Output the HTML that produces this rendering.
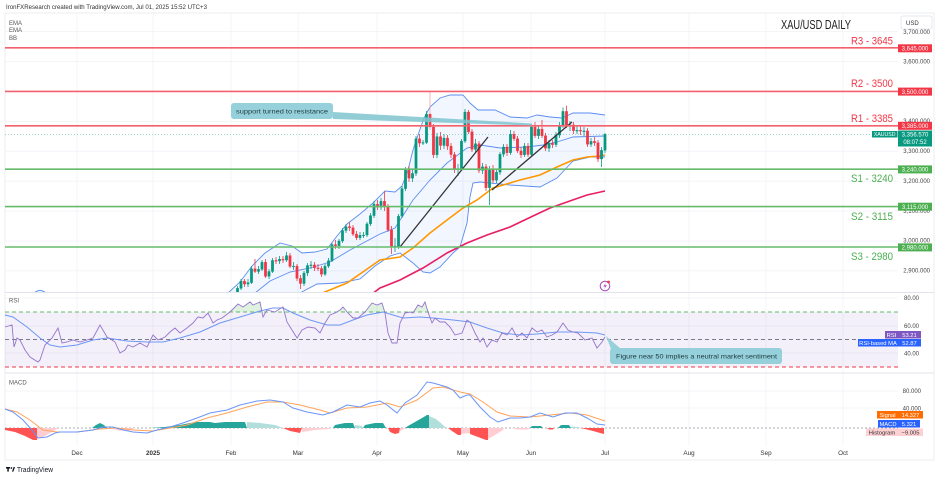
<!DOCTYPE html>
<html><head><meta charset="utf-8">
<style>
html,body{margin:0;padding:0;background:#fff;}
svg{display:block;font-family:"Liberation Sans",sans-serif;}
</style></head>
<body>
<svg width="940" height="478" viewBox="0 0 940 478" xmlns="http://www.w3.org/2000/svg">
<defs>
<clipPath id="mainclip"><rect x="5" y="13" width="893" height="279"/></clipPath>
</defs>
<rect width="940" height="478" fill="#fff"/>

<!-- header -->
<text x="6" y="9" font-size="6.3" fill="#333" textLength="201" lengthAdjust="spacingAndGlyphs">IronFXResearch created with TradingView.com, Jul 01, 2025 15:52 UTC+3</text>

<!-- frame -->
<rect x="5" y="13" width="929" height="447" fill="none" stroke="#e6e8ee" stroke-width="0.8"/>

<!-- vertical grid -->
<g stroke="#f0f2f7" stroke-width="0.8">
<line x1="77" y1="13" x2="77" y2="446"/><line x1="153" y1="13" x2="153" y2="446"/>
<line x1="231" y1="13" x2="231" y2="446"/><line x1="298" y1="13" x2="298" y2="446"/>
<line x1="377" y1="13" x2="377" y2="446"/><line x1="463" y1="13" x2="463" y2="446"/>
<line x1="531" y1="13" x2="531" y2="446"/><line x1="605" y1="13" x2="605" y2="446"/>
<line x1="689" y1="13" x2="689" y2="446"/><line x1="766" y1="13" x2="766" y2="446"/>
<line x1="843" y1="13" x2="843" y2="446"/>
</g>
<!-- horizontal grid main -->
<g stroke="#f0f2f7" stroke-width="0.8">
<line x1="5" y1="31.5" x2="898" y2="31.5"/><line x1="5" y1="61.5" x2="898" y2="61.5"/>
<line x1="5" y1="91.4" x2="898" y2="91.4"/><line x1="5" y1="121.3" x2="898" y2="121.3"/>
<line x1="5" y1="151.2" x2="898" y2="151.2"/><line x1="5" y1="181.1" x2="898" y2="181.1"/>
<line x1="5" y1="211" x2="898" y2="211"/><line x1="5" y1="241" x2="898" y2="241"/>
<line x1="5" y1="270.9" x2="898" y2="270.9"/>
<line x1="5" y1="298" x2="898" y2="298"/><line x1="5" y1="326" x2="898" y2="326"/><line x1="5" y1="353" x2="898" y2="353"/>
<line x1="5" y1="391" x2="898" y2="391"/><line x1="5" y1="408" x2="898" y2="408"/>
</g>
<!-- pane separators -->
<line x1="5" y1="292.5" x2="934" y2="292.5" stroke="#e0e3eb" stroke-width="1"/>
<line x1="5" y1="373" x2="934" y2="373" stroke="#e0e3eb" stroke-width="1"/>

<!-- indicator labels -->
<g font-size="6" fill="#555">
<text x="9" y="25">EMA</text><text x="9" y="32">EMA</text><text x="9" y="40">BB</text>
<text x="9" y="302.5">RSI</text><text x="9" y="384.5">MACD</text>
</g>

<!-- MAIN PANE -->
<g clip-path="url(#mainclip)">
<!-- BB fill -->
<polygon fill="#2962ff" fill-opacity="0.06" points="228,293 240,282 252,266 265,253 280,243 292,246 302,253 315,252 327,249 337,236 347,224 360,214 373,203 385,191 395,192 402,186 408,170 413,150 418,135 424,118 430,107 440,98 450,95 463,95 470,103 478,110 495,110 510,117 527,118 537,115 550,117 562,118 573,113 590,113 605,115 605,157 590,157 573,161 557,178 540,187 510,185 480,182 473,183 470,197 467,223 460,247 453,253 440,267 430,273 423,272 413,263 400,253 390,256 375,266 360,279 340,283 317,284 300,293"/>
<path d="M33 294 Q40 287 47 294" fill="none" stroke="#5b8def" stroke-width="1"/>
<polyline fill="none" stroke="#5b8def" stroke-width="0.9" points="228,293 240,282 252,266 265,253 280,243 292,246 302,253 315,252 327,249 337,236 347,224 360,214 373,203 385,191 395,192 402,186 408,170 413,150 418,135 424,118 430,107 440,98 450,95 463,95 470,103 478,110 495,110 510,117 527,118 537,115 550,117 562,118 573,113 590,113 605,115"/>
<polyline fill="none" stroke="#5b8def" stroke-width="0.9" points="255,293 270,281 290,272 310,268 330,262 350,250 365,242 380,234 395,228 413,200 430,180 447,163 467,148 480,145 500,148 527,147 543,145 557,142 573,137 605,136"/>
<polyline fill="none" stroke="#5b8def" stroke-width="0.9" points="300,293 317,284 340,283 360,279 375,266 390,256 400,253 413,263 423,272 430,273 440,267 453,253 460,247 467,223 470,197 473,183 480,182 510,185 540,187 557,178 573,161 590,157 605,157"/>
<!-- EMAs -->
<polyline fill="none" stroke="#ff9800" stroke-width="1.6" points="320,294 347,283 370,267 380,260 400,257 413,248 430,233 447,220 463,208 477,200 493,188 510,183 520,180 540,175 557,167 573,160 587,157 600,156 605,155"/>
<polyline fill="none" stroke="#e91e63" stroke-width="1.6" points="372,294 380,288 400,280 423,268 447,253 467,243 487,235 510,227 533,216 550,208 567,202 587,195 605,191"/>

<!-- candles: wicks -->
<path fill="none" stroke="#089981" stroke-width="0.8" d="M237.5 286V298M241 279V290M248 279V287M251.5 266V284M258.5 266V274M262 260V271M269 269V279M272.5 258V273M279.5 256V264M286.5 252V262M293.5 262V270M304 271V286M307.5 263V276M311 261V269M325 264V276M328.5 258V268M332 243V262M339 239V249M342.5 228V243M346 224V233M360 232V240M363.5 232V238M367 222V237M370.5 213V226M374 201V218M381 198V210M395 238V252M398.5 214V249M402 186V218M405.5 167V191M412.5 170V182M416 136V176M423 140V145M426.5 111V144M437 133V158M444 134V149M458 164V176M461.5 139V171M465 109V143M475.5 139V153M482.5 163V174M489.5 166V205M496.5 169V183M500 152V175M503.5 144V157M510.5 130V155M524.5 143V157M531.5 124V156M538.5 126V139M549 140V152M556 132V147M559.5 122V138M563 107.5V128M570 121V131M577 126V134M584 127V136M591 138V147M601.5 147V167M605 133V153"/>
<path fill="none" stroke="#f23645" stroke-width="0.8" d="M244.5 279V287M255 259V273M265.5 259V278M276 257V264M283 256V263M290 253V268M297 264V281M300.5 275V289M314.5 262V271M318 264V271M321.5 266V277M335.5 240V249M349.5 222V231M353 225V236M356.5 231V240M377.5 200V210M384.5 191V211M388 204V232M391.5 226V254M409 166V182M419.5 134V147M433.5 124V158M440.5 132V150M447.5 135V150M451 143V158M454.5 152V173M468.5 110V134M472 129V152M479 141V173M486 164V191M493 165V183M507 144V156M514 131V141M517.5 136V153M521 147V158M528 143V157M535 122V138M542 120V138M545.5 133V151M552.5 140V148M566.5 105.7V128M573.5 122V134M580.5 126V135M587.5 128V147M594.5 137V146M598 140V162"/>
<path fill="none" stroke="#f7a1a8" stroke-width="0.8" d="M430 91.4V130"/>
<!-- candles: bodies -->
<path fill="#089981" stroke="#089981" stroke-width="0.35" d="M236.3 288.3h2.4v8h-2.4zM239.8 281.1h2.4v7.2h-2.4zM246.8 282.6h2.4v1.5h-2.4zM250.3 268.8h2.4v13.8h-2.4zM257.3 269.4h2.4v2.1h-2.4zM260.8 262.2h2.4v7.2h-2.4zM267.8 271.5h2.4v4.8h-2.4zM271.3 260.4h2.4v11.1h-2.4zM278.3 259.2h2.4v1.8h-2.4zM285.3 255.6h2.4v4.5h-2.4zM292.3 266.1h2.4v0.8h-2.4zM302.8 273h2.4v10.5h-2.4zM306.3 265.5h2.4v7.5h-2.4zM309.8 264.9h2.4v0.8h-2.4zM323.8 266.1h2.4v8.1h-2.4zM327.3 260.7h2.4v5.4h-2.4zM330.8 244.6h2.4v16.1h-2.4zM337.8 241h2.4v4.8h-2.4zM341.3 230.5h2.4v10.5h-2.4zM344.8 226.6h2.4v3.9h-2.4zM358.8 235.3h2.4v2.4h-2.4zM362.3 235h2.4v0.8h-2.4zM365.8 223.9h2.4v11.1h-2.4zM369.3 215.6h2.4v8.3h-2.4zM372.8 204.2h2.4v11.4h-2.4zM379.8 201.2h2.4v6h-2.4zM393.8 246h2.4v1h-2.4zM397.3 216.2h2.4v30.2h-2.4zM400.8 188.6h2.4v27.6h-2.4zM404.3 170.1h2.4v18.5h-2.4zM411.3 173.4h2.4v4.8h-2.4zM414.8 138.7h2.4v34.7h-2.4zM421.8 142.5h2.4v0.8h-2.4zM425.3 114.1h2.4v28.4h-2.4zM435.8 136.6h2.4v18.2h-2.4zM442.8 138.1h2.4v7.4h-2.4zM456.8 168.9h2.4v0.9h-2.4zM460.3 141.1h2.4v27.8h-2.4zM463.8 112h2.4v29.1h-2.4zM474.3 143.7h2.4v5.7h-2.4zM481.3 166.8h2.4v3.6h-2.4zM488.3 168.9h2.4v18.8h-2.4zM495.3 172.2h2.4v8h-2.4zM498.8 154.2h2.4v18h-2.4zM502.3 147h2.4v7.2h-2.4zM509.3 134.2h2.4v18.5h-2.4zM523.3 146.1h2.4v8.7h-2.4zM530.3 127h2.4v27.5h-2.4zM537.3 129.1h2.4v6.6h-2.4zM547.8 143.4h2.4v4.8h-2.4zM554.8 135.1h2.4v9.5h-2.4zM558.3 125.5h2.4v9.6h-2.4zM561.8 111.4h2.4v14.1h-2.4zM568.8 124.9h2.4v1.2h-2.4zM575.8 130.3h2.4v0.8h-2.4zM582.8 130.9h2.4v0.8h-2.4zM589.8 141.4h2.4v2.9h-2.4zM600.3 150.3h2.4v8.7h-2.4zM603.8 134.3h2.4v16h-2.4z"/>
<path fill="#f23645" stroke="#f23645" stroke-width="0.35" d="M243.3 281.1h2.4v3h-2.4zM253.8 268.8h2.4v2.7h-2.4zM264.3 262.2h2.4v14.1h-2.4zM274.8 260.4h2.4v0.8h-2.4zM281.8 259.2h2.4v0.9h-2.4zM288.8 255.6h2.4v10.8h-2.4zM295.8 266.1h2.4v12.3h-2.4zM299.3 278.4h2.4v5.1h-2.4zM313.3 264.9h2.4v3h-2.4zM316.8 267.9h2.4v0.8h-2.4zM320.3 268.5h2.4v5.7h-2.4zM334.3 244.6h2.4v1.2h-2.4zM348.3 226.6h2.4v1.2h-2.4zM351.8 227.8h2.4v6.3h-2.4zM355.3 234.1h2.4v3.6h-2.4zM376.3 204.2h2.4v3h-2.4zM383.3 201.2h2.4v5.7h-2.4zM386.8 206.9h2.4v23h-2.4zM390.3 229.9h2.4v16.5h-2.4zM407.8 170.1h2.4v8.1h-2.4zM418.3 138.7h2.4v4.4h-2.4zM428.8 114.1h2.4v12.9h-2.4zM432.3 127h2.4v27.8h-2.4zM439.3 136.6h2.4v8.9h-2.4zM446.3 138.1h2.4v8h-2.4zM449.8 146.1h2.4v8.4h-2.4zM453.3 154.5h2.4v15.3h-2.4zM467.3 112h2.4v19.8h-2.4zM470.8 131.8h2.4v17.6h-2.4zM477.8 143.7h2.4v26.7h-2.4zM484.8 166.8h2.4v20.9h-2.4zM491.8 168.9h2.4v11.3h-2.4zM505.8 147h2.4v5.7h-2.4zM512.8 134.2h2.4v4.5h-2.4zM516.3 138.7h2.4v12.2h-2.4zM519.8 150.9h2.4v3.9h-2.4zM526.8 146.1h2.4v8.4h-2.4zM533.8 127h2.4v8.7h-2.4zM540.8 129.1h2.4v6.6h-2.4zM544.3 135.7h2.4v12.5h-2.4zM551.3 143.4h2.4v1.2h-2.4zM565.3 111.4h2.4v14.7h-2.4zM572.3 124.9h2.4v5.7h-2.4zM579.3 130.3h2.4v0.8h-2.4zM586.3 130.9h2.4v13.4h-2.4zM593.3 141.4h2.4v1.4h-2.4zM596.8 142.8h2.4v16.2h-2.4z"/>

<!-- trend lines -->
<line x1="400" y1="247" x2="488" y2="137" stroke="#333" stroke-width="1.3"/>
<line x1="492" y1="190" x2="572" y2="122" stroke="#333" stroke-width="1.3"/>
</g>

<!-- current price dotted line -->
<line x1="5" y1="134.3" x2="898" y2="134.3" stroke="#089981" stroke-width="0.7" stroke-dasharray="1,2" opacity="0.6"/>

<!-- S/R lines -->
<g stroke-width="1.6">
<line x1="5" y1="47.8" x2="898" y2="47.8" stroke="#f4606b"/>
<line x1="5" y1="91.4" x2="898" y2="91.4" stroke="#f4606b"/>
<line x1="5" y1="125.8" x2="898" y2="125.8" stroke="#f4606b"/>
<line x1="5" y1="169.2" x2="898" y2="169.2" stroke="#66bb6a"/>
<line x1="5" y1="206.6" x2="898" y2="206.6" stroke="#66bb6a"/>
<line x1="5" y1="247" x2="898" y2="247" stroke="#66bb6a"/>
</g>
<g font-size="11" fill="#f23645">
<text x="851" y="44.5" textLength="42" lengthAdjust="spacingAndGlyphs">R3 - 3645</text>
<text x="851" y="87" textLength="42" lengthAdjust="spacingAndGlyphs">R2 - 3500</text>
<text x="851" y="122" textLength="42" lengthAdjust="spacingAndGlyphs">R1 - 3385</text>
</g>
<g font-size="11" fill="#4caf50">
<text x="851" y="182" textLength="42" lengthAdjust="spacingAndGlyphs">S1 - 3240</text>
<text x="851" y="220" textLength="42" lengthAdjust="spacingAndGlyphs">S2 - 3115</text>
<text x="851" y="260" textLength="42" lengthAdjust="spacingAndGlyphs">S3 - 2980</text>
</g>

<!-- title -->
<text x="781" y="29" font-size="12.5" fill="#222" textLength="70" lengthAdjust="spacingAndGlyphs">XAU/USD DAILY</text>

<!-- annotation 1 -->
<polygon points="333,112 333,119 532,125.5 532,123.5" fill="#7fc4cf" opacity="0.85"/>
<rect x="231" y="103" width="102" height="16" rx="3" fill="#96d0da"/>
<text x="236" y="113.5" font-size="6.8" fill="#1e3b42" textLength="92" lengthAdjust="spacingAndGlyphs">support turned to resistance</text>

<!-- lightning icon -->
<circle cx="605" cy="286" r="4.8" fill="#fff" stroke="#ab47bc" stroke-width="1"/>
<path d="M606 282.6 L603.3 286.5 L605.3 286.5 L604 289.4 L606.9 285.3 L604.9 285.3 Z" fill="#ab47bc"/>
<circle cx="608.5" cy="282" r="1.4" fill="#f23645"/>

<!-- price axis labels -->
<g font-size="6" fill="#444" text-anchor="end">
<text x="930" y="34">3,700.000</text>
<text x="930" y="63.5">3,600.000</text>
<text x="930" y="123">3,400.000</text>
<text x="930" y="153">3,300.000</text>
<text x="930" y="183">3,200.000</text>
<text x="930" y="213">3,100.000</text>
<text x="930" y="242.5">3,000.000</text>
<text x="930" y="272.5">2,900.000</text>
</g>
<!-- USD box -->
<rect x="901" y="16" width="31" height="13" rx="2" fill="#fff" stroke="#e0e3eb" stroke-width="0.8"/>
<text x="906" y="25" font-size="6" fill="#333">USD</text>

<!-- price tags -->
<g font-size="6" fill="#fff" text-anchor="middle">
<rect x="898" y="44.3" width="34" height="8" fill="#f23645"/><text x="915" y="50.5">3,645.000</text>
<rect x="898" y="87.6" width="34" height="8" fill="#f23645"/><text x="915" y="93.8">3,500.000</text>
<rect x="898" y="121.8" width="34" height="8" fill="#f23645"/><text x="915" y="128">3,385.000</text>
<rect x="872" y="131" width="25.5" height="6.5" fill="#089981"/><text x="884.7" y="136" font-size="5.2">XAUUSD</text>
<rect x="898" y="130.5" width="34" height="16" fill="#089981"/><text x="915" y="136.5">3,356.570</text><text x="915" y="144">08:07:52</text>
<rect x="898" y="165.4" width="34" height="8" fill="#4caf50"/><text x="915" y="171.6">3,240.000</text>
<rect x="898" y="202.7" width="34" height="8" fill="#4caf50"/><text x="915" y="208.9">3,115.000</text>
<rect x="898" y="243.4" width="34" height="8" fill="#4caf50"/><text x="915" y="249.6">2,980.000</text>
</g>

<!-- RSI PANE -->
<rect x="5" y="312" width="893" height="55" fill="#7e57c2" fill-opacity="0.09"/>
<line x1="5" y1="312" x2="898" y2="312" stroke="#66bb6a" stroke-width="1.1" stroke-dasharray="4,3"/>
<line x1="5" y1="339.5" x2="898" y2="339.5" stroke="#787b86" stroke-width="1.1" stroke-dasharray="4,3"/>
<line x1="5" y1="367" x2="898" y2="367" stroke="#f23645" stroke-width="1.1" stroke-dasharray="4,3"/>
<g fill="#4caf50" fill-opacity="0.18">
<polygon points="230,312 238,304 243,307 250,302 253,305 260,302 263,312"/>
<polygon points="338,312 340,310 343,307 346,312"/>
<polygon points="366,312 372,303 377,305 382,303 384,312"/>
<polygon points="414,312 418,305 422,307 425,302 428,312"/>
</g>
<polyline fill="none" stroke="#6d97f5" stroke-width="1" points="5,315 13,317 27,327 40,338 50,345 60,347 77,345 93,340 107,338 127,341 147,342 163,342 180,338 200,332 220,323 240,317 260,311 273,308 283,308 293,313 310,320 327,325 340,325 353,320 367,315 383,312 393,315 403,318 420,317 433,318 453,320 470,322 487,328 503,333 520,335 537,334 557,332 577,332 597,333 605,335"/>
<polyline fill="none" stroke="#9575cd" stroke-width="0.9" points="5,327 12,325 14,347 17,338 20,340 25,350 30,357 38,362 40,360 45,345 52,338 58,328 62,343 67,342 73,340 80,342 87,340 93,338 100,325 107,337 112,340 115,342 120,353 125,350 128,345 133,347 140,343 147,347 153,335 158,340 165,337 170,332 175,328 180,333 187,328 193,323 198,317 203,318 208,313 213,323 217,320 222,318 230,312 238,304 243,307 250,302 253,305 260,302 263,317 267,310 275,312 278,310 283,307 287,322 292,330 297,338 302,330 308,327 315,328 320,333 325,323 330,315 335,313 340,310 343,307 348,313 353,318 358,318 365,312 372,303 377,305 382,303 385,313 388,333 392,343 397,343 400,323 405,313 410,312 413,313 418,305 422,307 425,302 428,312 432,323 435,318 440,322 445,322 450,327 455,335 462,333 467,320 470,322 475,333 480,342 483,338 487,347 492,340 497,342 502,333 507,335 512,328 517,337 522,333 527,338 532,328 537,332 542,330 547,337 552,335 557,332 563,323 568,330 573,332 578,333 585,340 592,338 597,348 602,342 605,337"/>
<g font-size="6" fill="#444" text-anchor="end">
<text x="919" y="300">80.00</text><text x="919" y="328">60.00</text><text x="919" y="355.5">40.00</text>
</g>
<g font-size="5.8" fill="#fff" text-anchor="middle">
<rect x="885" y="331" width="13" height="7.5" fill="#7e57c2"/><text x="891.5" y="337">RSI</text>
<rect x="898" y="331" width="23" height="7.5" fill="#7e57c2"/><text x="909.5" y="337">53.21</text>
<rect x="858" y="339" width="40" height="7.5" fill="#2962ff"/><text x="878" y="345">RSI-based MA</text>
<rect x="898" y="339" width="23" height="7.5" fill="#2962ff"/><text x="909.5" y="345">52.87</text>
</g>
<!-- annotation 2 -->
<polygon points="606,336 611,349 621,349" fill="#96d0da"/>
<rect x="610" y="348" width="172" height="16" rx="3" fill="#96d0da"/>
<text x="616" y="358.5" font-size="6.8" fill="#1e3b42" textLength="161" lengthAdjust="spacingAndGlyphs">Figure near 50 implies a neutral market sentiment</text>

<!-- MACD PANE -->
<line x1="5" y1="428" x2="898" y2="428" stroke="#9598a1" stroke-width="0.7" stroke-dasharray="2,2"/>
<g fill="#ff5252">
<polygon points="5,428 5,430 15,432 25,436 33,440 37,440 37,428"/>
<polygon points="283,428 290,431 300,433 302,428"/>
<polygon points="388,428 390,432 395,434 399,433 400,428"/>
<polygon points="448,428 452,431 458,435 461,435 461,428"/>
<polygon points="470,428 470,434 478,437 486,440 488,440 488,428"/>
<polygon points="547,428 549,429.5 553,429.5 554,428"/>
<polygon points="580,428 585,429 593,431 600,433 604,434 604,428"/>
</g>
<g fill="#ffcdd2">
<polygon points="37,428 37,439 45,436 52,432 57,429 58,428"/>
<polygon points="112,428 118,430.5 130,430.5 135,428"/>
<polygon points="302,428 302,432 315,430 330,429 331,428"/>
<polygon points="400,428 400,431 404,429 404,428"/>
<polygon points="461,428 461,434 470,433 470,428"/>
<polygon points="488,428 488,439 495,435 503,430 504,428"/>
<polygon points="514,428 516,429.5 528,429.5 530,428"/>
</g>
<g fill="#26a69a">
<polygon points="92,428 96,425 100,423 104,425 107,428"/>
<polygon points="150,428 165,427 180,425 195,422 210,422 215,423 225,422 245,422 247,428"/>
<polygon points="333,428 335,425 345,423 353,423 355,428"/>
<polygon points="363,428 365,425 375,423 383,423 386,428"/>
<polygon points="405,428 408,426 415,422 422,418 427,415 429,415 429,428"/>
<polygon points="530,428 532,426 541,426 543,428"/>
<polygon points="558,428 561,425 569,425 571,428"/>
</g>
<g fill="#b2dfdb">
<polygon points="247,428 247,422 260,423 275,425 283,428"/>
<polygon points="355,428 355,425 362,426 363,428"/>
<polygon points="429,428 429,416 436,419 442,424 446,428"/>
<polygon points="571,428 571,426.5 579,427 580,428"/>
</g>
<polyline fill="none" stroke="#ffa45c" stroke-width="1" points="5,409 17,412 30,420 43,430 57,432 77,432 100,429 117,428 133,430 153,431 170,428 187,425 207,418 227,413 247,407 267,402 283,402 300,405 320,410 330,413 347,408 367,407 387,403 400,407 417,400 433,388 443,387 460,392 470,394 483,402 497,412 510,416 530,417 550,415 570,413 587,415 605,421"/>
<polyline fill="none" stroke="#6b95f7" stroke-width="1" points="5,409 13,412 23,420 32,430 38,438 47,437 55,433 60,432 77,432 93,430 103,427 113,427 123,430 133,432 147,433 157,430 170,427 183,423 197,418 210,413 227,410 240,405 257,401 270,400 283,402 293,408 307,412 323,415 333,412 347,405 360,407 370,403 380,401 387,405 397,413 405,403 417,395 427,382 433,383 447,387 453,390 460,398 467,395 470,395 480,407 490,417 498,422 510,418 520,418 530,417 540,413 553,417 565,413 577,413 587,418 597,424 605,425"/>
<g font-size="6" fill="#444" text-anchor="end">
<text x="921" y="393">80.000</text><text x="921" y="410.5">40.000</text>
</g>
<g font-size="5.8" text-anchor="middle">
<rect x="877" y="411" width="21" height="7.5" fill="#ff6d00"/><text x="887.5" y="417" fill="#fff">Signal</text>
<rect x="898" y="411" width="25" height="7.5" fill="#ff6d00"/><text x="910.5" y="417" fill="#fff">14.327</text>
<rect x="878" y="420" width="20" height="7.5" fill="#2962ff"/><text x="888" y="426" fill="#fff">MACD</text>
<rect x="898" y="420" width="22" height="7.5" fill="#2962ff"/><text x="909" y="426" fill="#fff">5.321</text>
<rect x="866" y="428.5" width="32" height="7.5" fill="#fdd0d3"/><text x="882" y="434.5" fill="#333">Histogram</text>
<rect x="898" y="428.5" width="25" height="7.5" fill="#fdd0d3"/><text x="910.5" y="434.5" fill="#333">−9.005</text>
</g>

<!-- time axis -->
<g font-size="6.3" fill="#333" text-anchor="middle">
<text x="77" y="455">Dec</text>
<text x="153" y="455" font-weight="bold">2025</text>
<text x="231" y="455">Feb</text>
<text x="298" y="455">Mar</text>
<text x="377" y="455">Apr</text>
<text x="463" y="455">May</text>
<text x="531" y="455">Jun</text>
<text x="605" y="455">Jul</text>
<text x="689" y="455">Aug</text>
<text x="766" y="455">Sep</text>
<text x="843" y="455">Oct</text>
</g>

<!-- TradingView logo -->
<rect x="6" y="467" width="4" height="1.6" fill="#131722"/>
<rect x="7.3" y="467" width="1.5" height="4.6" fill="#131722"/>
<circle cx="11.4" cy="468" r="0.9" fill="#131722"/>
<polygon points="12,471.6 13.6,467 15,467 13.4,471.6" fill="#131722"/>
<text x="17" y="471.8" font-size="7" fill="#131722" textLength="36" lengthAdjust="spacingAndGlyphs">TradingView</text>
</svg>
</body></html>
